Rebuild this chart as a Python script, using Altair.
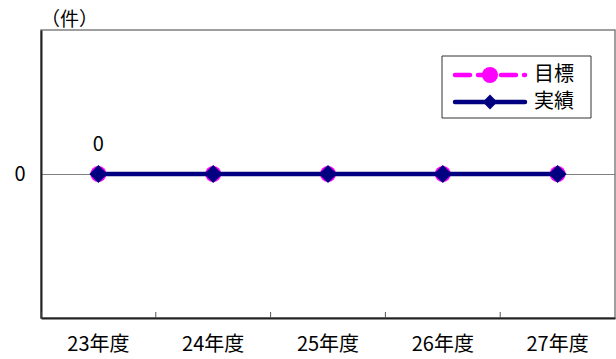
import altair as alt
import pandas as pd

years = ["23年度", "24年度", "25年度", "26年度", "27年度"]
target = [0, 0, 0, 0, 0]
actual = [0, 0, 0, 0, 0]
series = ["目標", "実績"]
y_ticks = [0]
unit = "（件）"

FONT = "Noto Sans CJK JP"
MAGENTA = "#FF00FF"
NAVY = "#000080"

df = pd.DataFrame({"year": years, "target": target, "actual": actual})

W, H = 574, 288

xscale = alt.Scale(type="band", paddingInner=0, paddingOuter=0)
yscale = alt.Scale(domain=[-1, 1], nice=False, zero=False)

xenc = alt.X("year:N", scale=xscale, sort=years,
             axis=alt.Axis(title=None, labelAngle=0, labelFont=FONT, labelFontSize=20,
                           labelColor="black", ticks=False, tickSize=0, labelPadding=16,
                           labelBaseline="top", domainColor="#222222", domainWidth=2,
                           grid=False))

base = alt.Chart(df)

target_line = base.mark_line(color=MAGENTA, strokeWidth=4, strokeDash=[15, 8], strokeCap="round").encode(
    x=xenc,
    y=alt.Y("target:Q", scale=yscale,
            axis=alt.Axis(values=y_ticks, format="d", title=unit, titleAngle=0, titleX=28, titleY=-11,
                          titleAlign="center", titleBaseline="middle", titleFont=FONT,
                          titleFontSize=19, titleFontWeight="normal", titleColor="black",
                          labelFont=FONT, labelFontSize=20, labelColor="black",
                          tickSize=0, ticks=False, labelPadding=16,
                          domainColor="#222222", domainWidth=2,
                          grid=True, gridColor="#808080", gridWidth=1)),
)
target_pts = base.mark_point(shape="circle", filled=True, color=MAGENTA, size=256, opacity=1).encode(
    x=alt.X("year:N", scale=xscale, sort=years), y=alt.Y("target:Q", scale=yscale))

actual_line = base.mark_line(color=NAVY, strokeWidth=4.5).encode(
    x=alt.X("year:N", scale=xscale, sort=years), y=alt.Y("actual:Q", scale=yscale))
actual_pts = base.mark_point(shape="diamond", filled=True, color=NAVY, size=324, opacity=1).encode(
    x=alt.X("year:N", scale=xscale, sort=years), y=alt.Y("actual:Q", scale=yscale))

label = base.transform_filter(alt.datum.year == years[0]).mark_text(
    font=FONT, fontSize=20, color="black", baseline="middle", dy=-29).encode(
    x=alt.X("year:N", scale=xscale, sort=years), y=alt.Y("actual:Q", scale=yscale),
    text=alt.Text("actual:Q", format="d"))

ticks = base.mark_rule(color="#555555", strokeWidth=1).encode(
    x=alt.X("year:N", scale=xscale, sort=years, bandPosition=0),
    y=alt.value(H - 6), y2=alt.value(H))

one = pd.DataFrame({"a": [0]})
lg = alt.Chart(one)
leg_box = lg.mark_rect(fill="white", stroke="#333333", strokeWidth=1).encode(
    x=alt.value(401), x2=alt.value(550), y=alt.value(26), y2=alt.value(88))
leg_l1 = lg.mark_rule(color=MAGENTA, strokeWidth=4.5, strokeDash=[15, 8], strokeCap="round").encode(
    x=alt.value(414), x2=alt.value(484), y=alt.value(45))
leg_p1 = lg.mark_point(shape="circle", filled=True, color=MAGENTA, size=256, opacity=1).encode(
    x=alt.value(449), y=alt.value(45))
leg_t1 = lg.mark_text(font=FONT, fontSize=20, align="left", baseline="middle", color="black").encode(
    x=alt.value(493), y=alt.value(45), text=alt.value(series[0]))
leg_l2 = lg.mark_rule(color=NAVY, strokeWidth=4.5, strokeCap="round").encode(
    x=alt.value(414), x2=alt.value(484), y=alt.value(72))
leg_p2 = lg.mark_point(shape="diamond", filled=True, color=NAVY, size=220, opacity=1).encode(
    x=alt.value(449), y=alt.value(72))
leg_t2 = lg.mark_text(font=FONT, fontSize=20, align="left", baseline="middle", color="black").encode(
    x=alt.value(493), y=alt.value(72), text=alt.value(series[1]))

chart = alt.layer(
    target_line, target_pts, actual_line, actual_pts, label, ticks,
    leg_box, leg_l1, leg_p1, leg_t1, leg_l2, leg_p2, leg_t2,
).properties(
    width=W, height=H,
    autosize=alt.AutoSizeParams(type="none"),
    padding={"left": 41, "top": 30, "right": 1, "bottom": 41},
    background="white",
).configure_view(stroke="#808080", strokeWidth=1.5)

chart.save("out.html", embed_options={"renderer": "svg", "actions": False})
